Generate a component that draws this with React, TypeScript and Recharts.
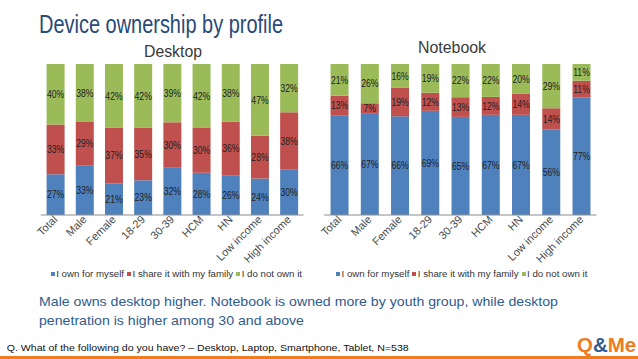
import React from "react";
import { BarChart, Bar, XAxis, YAxis, LabelList } from "recharts";

const categories = ["Total", "Male", "Female", "18-29", "30-39", "HCM", "HN", "Low income", "High income"];
const seriesNames = ["I own for myself", "I share it with my family", "I do not own it"];
const seriesColors = ["#4F81BD", "#C0504D", "#9BBB59"];

const desktopOwn = [27, 33, 21, 23, 32, 28, 26, 24, 30];
const desktopShare = [33, 29, 37, 35, 30, 30, 36, 28, 38];
const desktopNot = [40, 38, 42, 42, 39, 42, 38, 47, 32];

const notebookOwn = [66, 67, 66, 69, 65, 67, 67, 56, 77];
const notebookShare = [13, 7, 19, 12, 13, 12, 14, 14, 11];
const notebookNot = [21, 26, 16, 19, 22, 22, 20, 29, 11];

const title = "Device ownership by profile";
const desktopTitle = "Desktop";
const notebookTitle = "Notebook";
const noteLine1 = "Male owns desktop higher. Notebook is owned more by youth group, while desktop";
const noteLine2 = "penetration is higher among 30 and above";
const question = "Q. What of the following do you have? \u2013 Desktop, Laptop, Smartphone, Tablet, N=538";

const FONT = "'Liberation Sans', Arial, sans-serif";

const build = (a: number[], b: number[], c: number[]) =>
  categories.map((cat, i) => ({ category: cat, own: a[i], share: b[i], not: c[i] }));

const desktopData = build(desktopOwn, desktopShare, desktopNot);
const notebookData = build(notebookOwn, notebookShare, notebookNot);
const keys = ["own", "share", "not"];

const DataLabel = (props: any) => {
  const { x, y, width, height, value } = props;
  const cx = Number(x) + Number(width) / 2;
  const cy = Number(y) + Number(height) / 2;
  return (
    <text
      transform={`translate(${cx},${cy}) scale(0.82,1)`}
      textAnchor="middle"
      dominantBaseline="central"
      fontSize={10.5}
      fill="#222"
      fontFamily={FONT}
    >
      {value}%
    </text>
  );
};

const Tick = (props: any) => {
  const { x, y, payload } = props;
  return (
    <g transform={`translate(${x},${y})`}>
      <text
        x={0}
        y={0}
        dx={4}
        dy={0}
        transform="rotate(-45)"
        textAnchor="end"
        fontSize={11}
        fill="#4a4a4a"
        fontFamily={FONT}
      >
        {payload.value}
      </text>
    </g>
  );
};

const StackChart = ({ data, margin, gap }: any) => (
  <BarChart
    width={638}
    height={290}
    data={data}
    margin={margin}
    stackOffset="expand"
    barCategoryGap={gap}
  >
    <XAxis
      dataKey="category"
      interval={0}
      tickLine={false}
      axisLine={{ stroke: "#8c8c8c" }}
      tick={<Tick />}
      height={30}
    />
    <YAxis hide domain={[0, 1]} />
    {keys.map((k, i) => (
      <Bar key={k} dataKey={k} stackId="a" fill={seriesColors[i]} isAnimationActive={false}>
        <LabelList dataKey={k} content={<DataLabel />} />
      </Bar>
    ))}
  </BarChart>
);

const Legend = ({ left }: { left: number }) => (
  <div
    style={{
      position: "absolute",
      left,
      top: 267.6,
      height: 12,
      display: "flex",
      alignItems: "center",
      whiteSpace: "nowrap",
      fontFamily: FONT,
      fontSize: 9.7,
      lineHeight: "12px",
      color: "#333",
    }}
  >
    {seriesNames.map((n, i) => (
      <span key={n} style={{ display: "flex", alignItems: "center", marginRight: 3 }}>
        <span style={{ display: "inline-block", width: 4, height: 4, background: seriesColors[i], marginRight: 1.5 }} />
        <span>{n}</span>
      </span>
    ))}
  </div>
);

export default function App() {
  return (
    <div
      style={{
        position: "absolute",
        left: 0,
        top: 0,
        width: 638,
        height: 359,
        background: "#fff",
        overflow: "hidden",
        fontFamily: FONT,
      }}
    >
      <div style={{ position: "absolute", left: 0, top: 0 }}>
        <StackChart data={desktopData} margin={{ top: 64, right: 334.5, bottom: 45, left: 40.75 }} gap="20%" />
      </div>
      <div style={{ position: "absolute", left: 0, top: 0 }}>
        <StackChart data={notebookData} margin={{ top: 64, right: 41.6, bottom: 45, left: 324.2 }} gap="21%" />
      </div>
      <Legend left={50.7} />
      <Legend left={336} />
      <svg
        width={638}
        height={359}
        style={{ position: "absolute", left: 0, top: 0, pointerEvents: "none" }}
      >
        <text x={39} y={33} fontSize={26} textLength={244} lengthAdjust="spacingAndGlyphs" fill="#2A4A78" fontFamily={FONT}>
          {title}
        </text>
        <text x={173} y={56.5} fontSize={16} textAnchor="middle" textLength={58} lengthAdjust="spacingAndGlyphs" fill="#3a3a3a" fontFamily={FONT}>
          {desktopTitle}
        </text>
        <text x={452} y={53} fontSize={16} textAnchor="middle" textLength={68} lengthAdjust="spacingAndGlyphs" fill="#3a3a3a" fontFamily={FONT}>
          {notebookTitle}
        </text>
        <text x={39} y={305.5} fontSize={13} textLength={519} lengthAdjust="spacingAndGlyphs" fill="#2F5B8E" fontFamily={FONT}>
          {noteLine1}
        </text>
        <text x={39} y={324.5} fontSize={13} textLength={265} lengthAdjust="spacingAndGlyphs" fill="#2F5B8E" fontFamily={FONT}>
          {noteLine2}
        </text>
        <text x={6.7} y={351} fontSize={9.5} textLength={402} lengthAdjust="spacingAndGlyphs" fill="#111" fontFamily={FONT}>
          {question}
        </text>
        <text x={577} y={351.5} fontSize={20.5} fontWeight="bold" fontFamily={FONT}>
          <tspan fill="#EE7D22">Q</tspan>
          <tspan fill="#2F5B8E">&amp;</tspan>
          <tspan fill="#EE7D22">Me</tspan>
        </text>
        <rect x={0} y={356} width={638} height={3} fill="#EE7D22" />
      </svg>
    </div>
  );
}
